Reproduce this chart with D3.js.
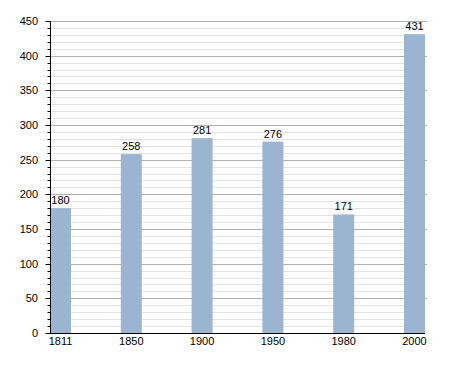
<!DOCTYPE html>
<html>
<head>
<meta charset="utf-8">
<script src="https://cdn.jsdelivr.net/npm/d3@7"></script>
<style>
  body { margin: 0; background: #fff; }
  text { font-family: "Liberation Sans", Arial, sans-serif; }
</style>
</head>
<body>
<div id="chart"></div>
<script>
var years = ["1811", "1850", "1900", "1950", "1980", "2000"];
var population = [180, 258, 281, 276, 171, 431];
var yTicks = [0, 50, 100, 150, 200, 250, 300, 350, 400, 450];

var width = 455, height = 373;
var plotLeft = 50, plotRight = 425, plotTop = 21, plotBottom = 333;
var barW = 21;

var svg = d3.select("#chart").append("svg")
    .attr("width", width).attr("height", height);

var y = d3.scaleLinear().domain([0, 450]).range([plotBottom, plotTop]);
var x = d3.scalePoint().domain(years).range([plotLeft + barW / 2, plotRight - barW / 2]);

// minor grid lines every 10
var minor = d3.range(10, 450, 10).filter(function(v) { return v % 50 != 0; });
svg.append("g").selectAll("line").data(minor).enter().append("line")
    .attr("x1", plotLeft).attr("x2", plotRight)
    .attr("y1", function(d) { return Math.round(y(d)) + 0.5; })
    .attr("y2", function(d) { return Math.round(y(d)) + 0.5; })
    .attr("stroke", "#e3e3e3").attr("stroke-width", 1);

// major grid lines
svg.append("g").selectAll("line").data(yTicks.slice(1)).enter().append("line")
    .attr("x1", plotLeft).attr("x2", plotRight + 2)
    .attr("y1", function(d) { return Math.round(y(d)) + 0.5; })
    .attr("y2", function(d) { return Math.round(y(d)) + 0.5; })
    .attr("stroke", "#b0b0b0").attr("stroke-width", 1);

// bars
svg.append("g").selectAll("rect").data(population).enter().append("rect")
    .attr("x", function(d, i) { return x(years[i]) - barW / 2; })
    .attr("y", function(d) { return y(d); })
    .attr("width", barW)
    .attr("height", function(d) { return plotBottom - y(d); })
    .attr("fill", "#9bb4d0");

// value labels
svg.append("g").selectAll("text").data(population).enter().append("text")
    .attr("x", function(d, i) { return x(years[i]); })
    .attr("y", function(d) { return y(d) - 4; })
    .attr("text-anchor", "middle")
    .attr("font-size", 11)
    .attr("fill", "#000")
    .text(function(d) { return d; });

// y axis with minor ticks
var yAxis = svg.append("g").attr("transform", "translate(" + (plotLeft + 0.5) + ",0.5)");
yAxis.append("line").attr("x1", 0).attr("x2", 0).attr("y1", Math.round(y(450))).attr("y2", Math.round(y(0)))
    .attr("stroke", "#000");
yAxis.selectAll("line.minor").data(d3.range(0, 451, 10)).enter().append("line")
    .attr("class", "minor")
    .attr("x1", function(d) { return d % 50 == 0 ? -5 : -3; }).attr("x2", 0)
    .attr("y1", function(d) { return Math.round(y(d)); }).attr("y2", function(d) { return Math.round(y(d)); })
    .attr("stroke", "#000");
svg.append("g").selectAll("text").data(yTicks).enter().append("text")
    .attr("x", 38)
    .attr("y", function(d) { return y(d) + 4; })
    .attr("text-anchor", "end")
    .attr("font-size", 11)
    .text(function(d) { return d; });

// x axis
svg.append("line").attr("x1", plotLeft).attr("x2", plotRight)
    .attr("y1", plotBottom + 0.5).attr("y2", plotBottom + 0.5)
    .attr("stroke", "#000").attr("stroke-width", 1.2);
svg.append("g").selectAll("text").data(years).enter().append("text")
    .attr("x", function(d) { return x(d); })
    .attr("y", 345)
    .attr("text-anchor", "middle")
    .attr("font-size", 11)
    .text(function(d) { return d; });
</script>
</body>
</html>
